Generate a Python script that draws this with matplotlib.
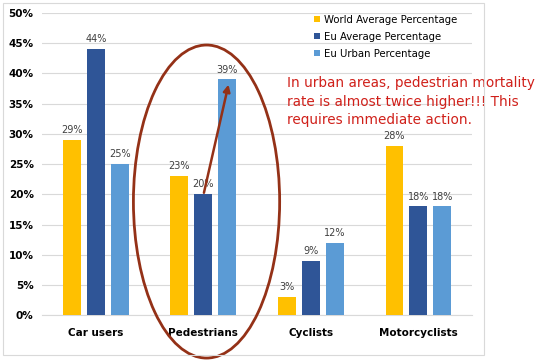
import matplotlib.pyplot as plt
import numpy as np
from matplotlib.patches import Ellipse, Rectangle

# Data
categories = ['Car users', 'Pedestrians', 'Cyclists', 'Motorcyclists']
world_avg = [29, 23, 3, 28]
eu_avg = [44, 20, 9, 18]
eu_urban = [25, 39, 12, 18]
series_names = ['World Average Percentage', 'Eu Average Percentage', 'Eu Urban Percentage']
colors = ['#FFC000', '#2F5597', '#5B9BD5']
note = ('In urban areas, pedestrian mortality\n'
        'rate is almost twice higher!!! This\n'
        'requires immediate action.')

fig = plt.figure(figsize=(5.5, 3.61), dpi=100)
ax = fig.add_axes([0.0764, 0.127, 0.782, 0.837])

x = np.arange(len(categories))
width = 0.167
pitch = 0.222
for i, (vals, name, c) in enumerate(zip([world_avg, eu_avg, eu_urban], series_names, colors)):
    pos = x + (i - 1) * pitch
    ax.bar(pos, vals, width, color=c, label=name, zorder=3)
    for px, v in zip(pos, vals):
        ax.text(px, v + 0.8, f'{v}%', ha='center', va='bottom', fontsize=7, color='#404040')

ax.set_xlim(-0.5, 3.5)
ax.set_ylim(0, 50)
ax.set_yticks(range(0, 51, 5))
ax.set_yticklabels([f'{t}%' for t in range(0, 51, 5)], fontsize=7.5, fontweight='bold')
ax.set_xticks(x)
ax.set_xticklabels(categories, fontsize=7.5, fontweight='bold')
ax.tick_params(length=0, pad=6)
ax.tick_params(axis='x', pad=9)
ax.grid(axis='y', color='#D9D9D9', linewidth=0.8, zorder=0)
for s in ['top', 'right', 'left']:
    ax.spines[s].set_visible(False)
ax.spines['bottom'].set_color('#D9D9D9')

ax.legend(loc='upper left', bbox_to_anchor=(0.61, 1.025), frameon=False, fontsize=7.3,
          handlelength=0.6, handleheight=0.6, handletextpad=0.4, labelspacing=0.7)

# Red note and ellipse
ax.text(1.78, 35.3, note, fontsize=9.8, color='#D0201A', va='center', ha='left',
        linespacing=1.4, zorder=5, family=['Liberation Sans Narrow', 'DejaVu Sans'])
ax.add_patch(Ellipse((1.03, 18.8), 1.36, 51.8, fill=False, edgecolor='#943117',
                     linewidth=2, clip_on=False, zorder=6))
ax.annotate('', xy=(1.24, 38.6), xytext=(1.0, 19.8),
            arrowprops=dict(arrowstyle='-|>', color='#943117', lw=1.8, mutation_scale=10),
            zorder=6)

# Outer chart border
fig.add_artist(Rectangle((3 / 550, 6 / 361), 481 / 550, 352 / 361, transform=fig.transFigure,
                         fill=False, edgecolor='#D9D9D9', linewidth=0.8))

fig.savefig('out.png', dpi=100)
